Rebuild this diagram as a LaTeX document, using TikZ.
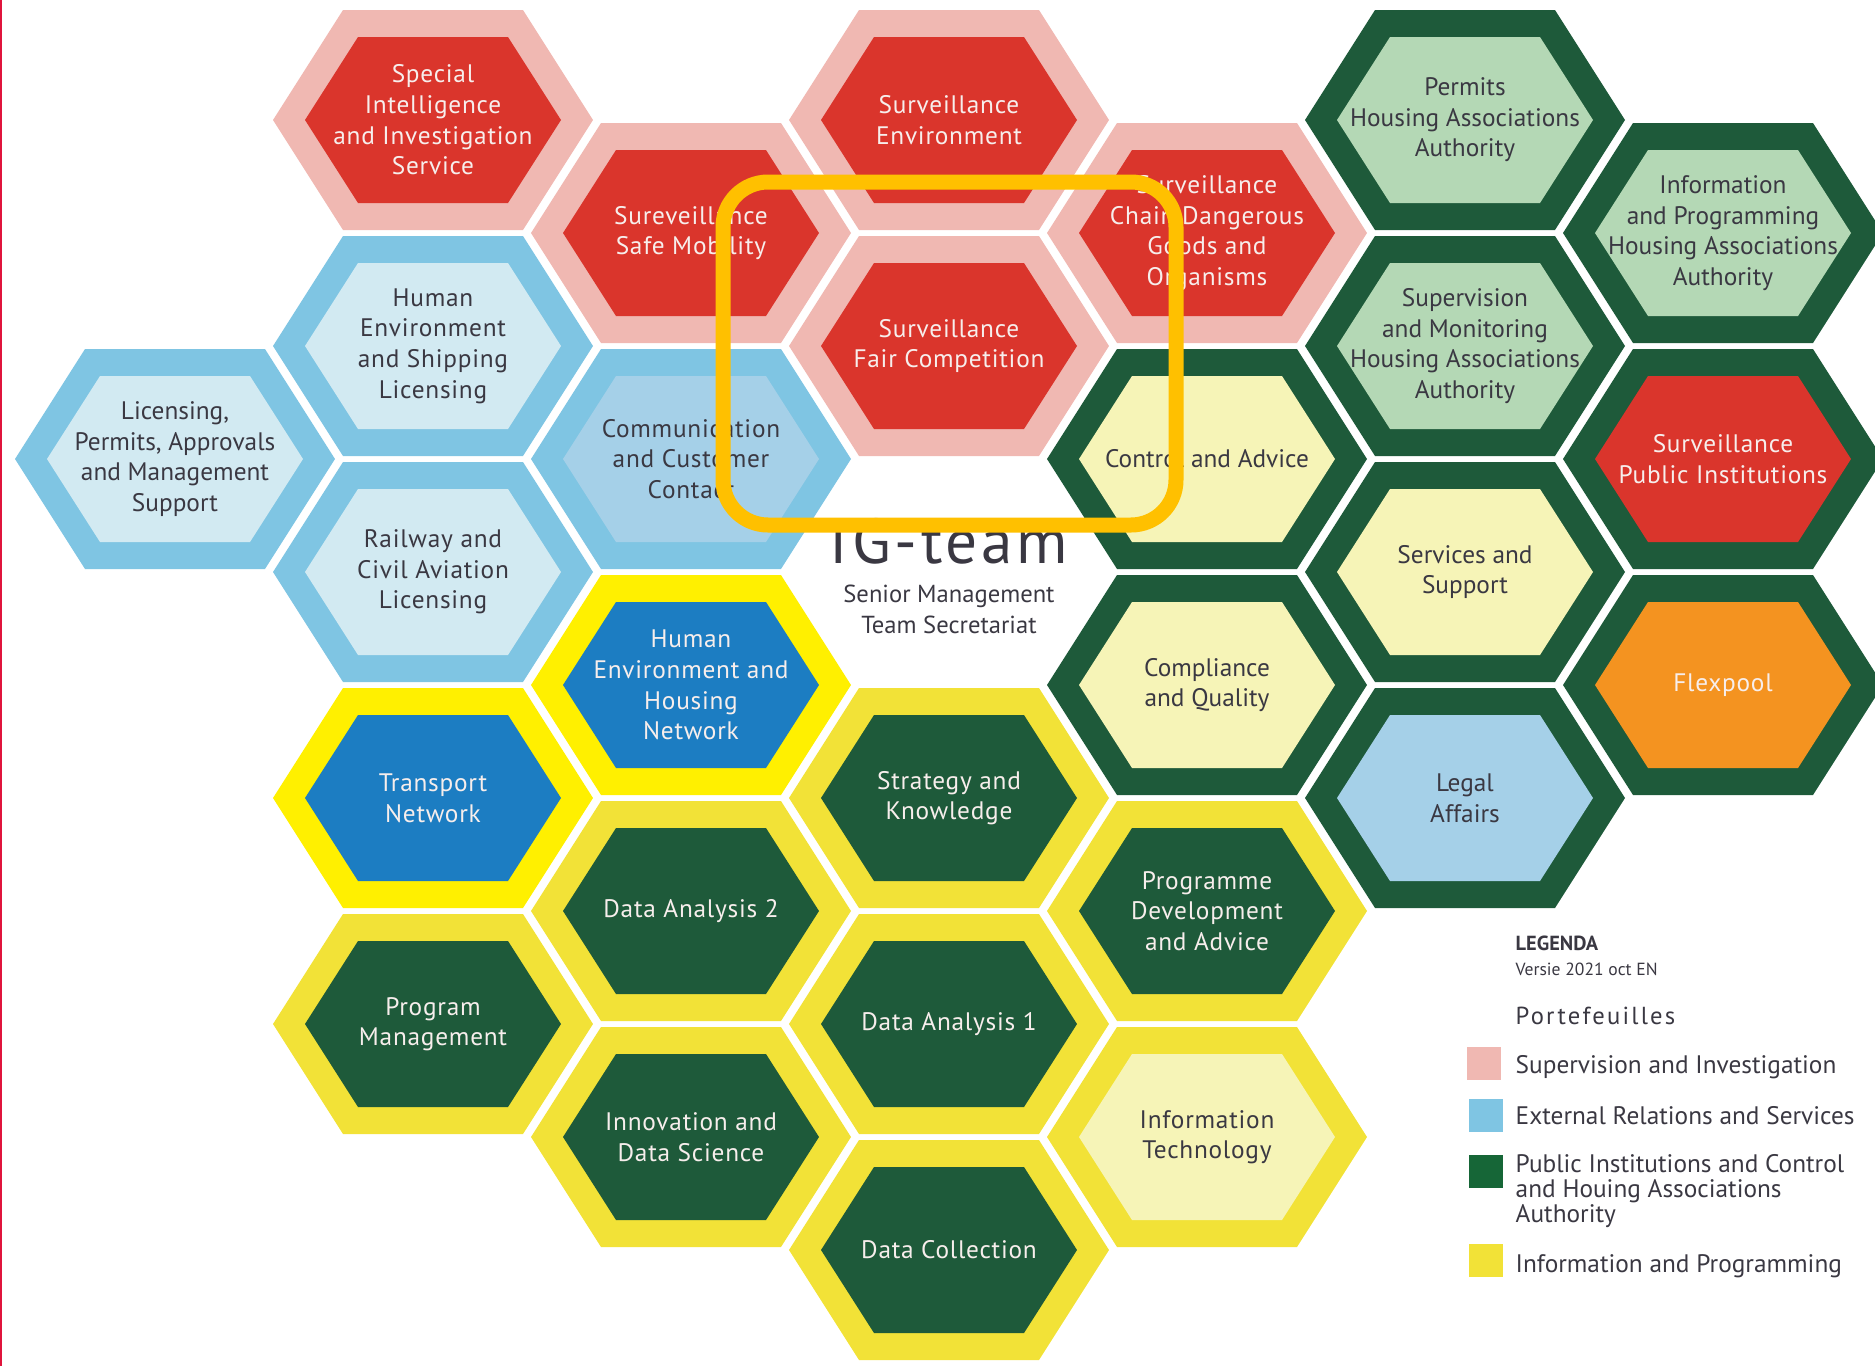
\documentclass[tikz,border=0pt]{standalone}
\usepackage{fontspec}
\setmainfont{PT Sans}
\newfontfamily\trackfont[LetterSpace=3]{PT Sans}
\newfontfamily\widefont[LetterSpace=9]{PT Sans}
\newfontfamily\igfont[LetterSpace=6]{PT Sans}
\usepackage{tikz}

\definecolor{supring}{HTML}{F0B8B2}
\definecolor{supcore}{HTML}{DA352C}
\definecolor{extring}{HTML}{7FC5E3}
\definecolor{extcore}{HTML}{D2EAF2}
\definecolor{extmid}{HTML}{A5D0E8}
\definecolor{pubring}{HTML}{1E5A3A}
\definecolor{pubcore}{HTML}{B4D8B5}
\definecolor{paleyel}{HTML}{F6F4B7}
\definecolor{infring}{HTML}{F2E237}
\definecolor{netring}{HTML}{FFF000}
\definecolor{netcore}{HTML}{1C7DC2}
\definecolor{flexcore}{HTML}{F49320}
\definecolor{lighttext}{HTML}{F7EEEC}
\definecolor{darktext}{HTML}{3A3842}
\definecolor{framecol}{HTML}{FFC000}
\definecolor{legendgreen}{HTML}{166637}
\definecolor{edgered}{HTML}{E0143C}

% ring and core of one cell, centred at (#1,#2)
\newcommand{\hexcell}[4]{%
  \fill[#3] (#1,#2) ++(-160,0) -- ++(70,-110) -- ++(180,0) -- ++(70,110)
    -- ++(-70,110) -- ++(-180,0) -- cycle;
  \fill[#4] (#1,#2) ++(-128,0) -- ++(53,-83) -- ++(150,0) -- ++(53,83)
    -- ++(-53,83) -- ++(-150,0) -- cycle;}

\begin{document}
\begin{tikzpicture}
  [x=0.01cm, y=-0.01cm, inner sep=0pt,
   lighttxt/.style={align=center,text=lighttext,font=\trackfont\fontsize{7.2}{8.7}\selectfont},
   darktxt/.style={align=center,text=darktext,font=\trackfont\fontsize{7.2}{8.7}\selectfont},
   plaintxt/.style={align=center,text=darktext,font=\fontsize{7.2}{8.7}\selectfont},
   legtext/.style={anchor=base west,text=darktext,font=\fontsize{7.2}{8.7}\selectfont},
   swatch/.style={minimum width=0.34cm,minimum height=0.33cm}]
  \useasboundingbox (0,0) rectangle (1875,1366);
  \draw[edgered, line width=0.025cm] (1,0) -- (1,1366);

  % Supervision and Investigation
  \hexcell{433}{120}{supring}{supcore}
  \hexcell{949}{120}{supring}{supcore}
  \hexcell{691}{233}{supring}{supcore}
  \hexcell{1207}{233}{supring}{supcore}
  \hexcell{949}{346}{supring}{supcore}
  % External Relations and Services
  \hexcell{433}{346}{extring}{extcore}
  \hexcell{175}{459}{extring}{extcore}
  \hexcell{691}{459}{extring}{extmid}
  \hexcell{433}{572}{extring}{extcore}
  % Public Institutions and Control
  \hexcell{1465}{120}{pubring}{pubcore}
  \hexcell{1723}{233}{pubring}{pubcore}
  \hexcell{1465}{346}{pubring}{pubcore}
  \hexcell{1723}{459}{pubring}{supcore}
  \hexcell{1207}{459}{pubring}{paleyel}
  \hexcell{1465}{572}{pubring}{paleyel}
  \hexcell{1207}{685}{pubring}{paleyel}
  \hexcell{1723}{685}{pubring}{flexcore}
  \hexcell{1465}{798}{pubring}{extmid}
  % Information and Programming
  \hexcell{691}{685}{netring}{netcore}
  \hexcell{433}{798}{netring}{netcore}
  \hexcell{949}{798}{infring}{pubring}
  \hexcell{691}{911}{infring}{pubring}
  \hexcell{1207}{911}{infring}{pubring}
  \hexcell{433}{1024}{infring}{pubring}
  \hexcell{949}{1024}{infring}{pubring}
  \hexcell{691}{1137}{infring}{pubring}
  \hexcell{1207}{1137}{infring}{paleyel}
  \hexcell{949}{1250}{infring}{pubring}

  \node at (433,120) (sis) [lighttxt] {Special\\Intelligence\\and Investigation\\Service};
  \node at (949,120) (senv) [lighttxt] {Surveillance\\Environment};
  \node at (691,233) (ssm) [lighttxt] {Sureveillance\\Safe Mobility};
  \node at (1207,233) (scdg) [lighttxt] {Surveillance\\Chain Dangerous\\Goods and\\Organisms};
  \node at (949,346) (sfc) [lighttxt] {Surveillance\\Fair Competition};
  \node at (433,346) (hesl) [darktxt] {Human\\Environment\\and Shipping\\Licensing};
  \node at (175,459) (lpams) [plaintxt] {Licensing,\\Permits, Approvals\\and Management\\Support};
  \node at (691,459) (ccc) [darktxt] {Communication\\and Customer\\Contact};
  \node at (433,572) (rcal) [darktxt] {Railway and\\Civil Aviation\\Licensing};
  \node at (1465,120) (phaa) [plaintxt] {Permits\\Housing Associations\\Authority};
  \node at (1723,233) (ipha) [plaintxt] {Information\\and Programming\\Housing Associations\\Authority};
  \node at (1465,346) (smha) [plaintxt] {Supervision\\and Monitoring\\Housing Associations\\Authority};
  \node at (1723,459) (spi) [lighttxt] {Surveillance\\Public Institutions};
  \node at (1207,459) (ctrl) [plaintxt] {Control and Advice};
  \node at (1465,572) (servs) [plaintxt] {Services and\\Support};
  \node at (1207,685) (cq) [plaintxt] {Compliance\\and Quality};
  \node at (1723,685) (flex) [lighttxt] {Flexpool};
  \node at (1465,798) (legal) [plaintxt] {Legal\\Affairs};
  \node at (691,685) (hehn) [lighttxt] {Human\\Environment and\\Housing\\Network};
  \node at (433,798) (tnet) [lighttxt] {Transport\\Network};
  \node at (949,798) (sk) [lighttxt] {Strategy and\\Knowledge};
  \node at (691,911) (da2) [lighttxt] {Data Analysis 2};
  \node at (1207,911) (pda) [lighttxt] {Programme\\Development\\and Advice};
  \node at (433,1024) (pmgt) [lighttxt] {Program\\Management};
  \node at (949,1024) (da1) [lighttxt] {Data Analysis 1};
  \node at (691,1137) (ids) [lighttxt] {Innovation and\\Data Science};
  \node at (1207,1137) (itech) [darktxt] {Information\\Technology};
  \node at (949,1250) (dcol) [lighttxt] {Data Collection};

  % centre cell
  \node at (949,563) (igteam) [anchor=base, text=darktext, font=\igfont\fontsize{18}{20}\selectfont] {IG-team};
  \node at (949,584) (igsub) [anchor=north, align=center, text=darktext, font=\fontsize{7}{8.8}\selectfont] {Senior Management\\Team Secretariat};

  % legend
  \node at (1515,950) (legenda) [anchor=base west, text=darktext, font=\bfseries\fontsize{5.8}{7}\selectfont] {LEGENDA};
  \node at (1515,975) (versie) [anchor=base west, text=darktext, font=\fontsize{5}{6}\selectfont] {Versie 2021 oct EN};
  \node at (1515,1024) (portf) [anchor=base west, text=darktext, font=\widefont\fontsize{7}{8}\selectfont] {Portefeuilles};
  \node at (1484,1063) (sw1) [swatch, fill=supring] {};
  \node at (1486,1115) (sw2) [swatch, fill=extring] {};
  \node at (1486,1171) (sw3) [swatch, fill=legendgreen] {};
  \node at (1486,1260) (sw4) [swatch, fill=infring] {};
  \node at (1515,1073) (lg1) [legtext] {Supervision and Investigation};
  \node at (1515,1124) (lg2) [legtext] {External Relations and Services};
  \node at (1515,1154) (lg3) [anchor=north west, align=left, text=darktext, font=\fontsize{7.2}{7.1}\selectfont] {Public Institutions and Control\\and Houing Associations\\Authority};
  \node at (1515,1272) (lg4) [legtext] {Information and Programming};

  \draw[framecol, line width=0.15cm, rounded corners=0.45cm] (723,182) rectangle (1176,525);
\end{tikzpicture}
\end{document}
